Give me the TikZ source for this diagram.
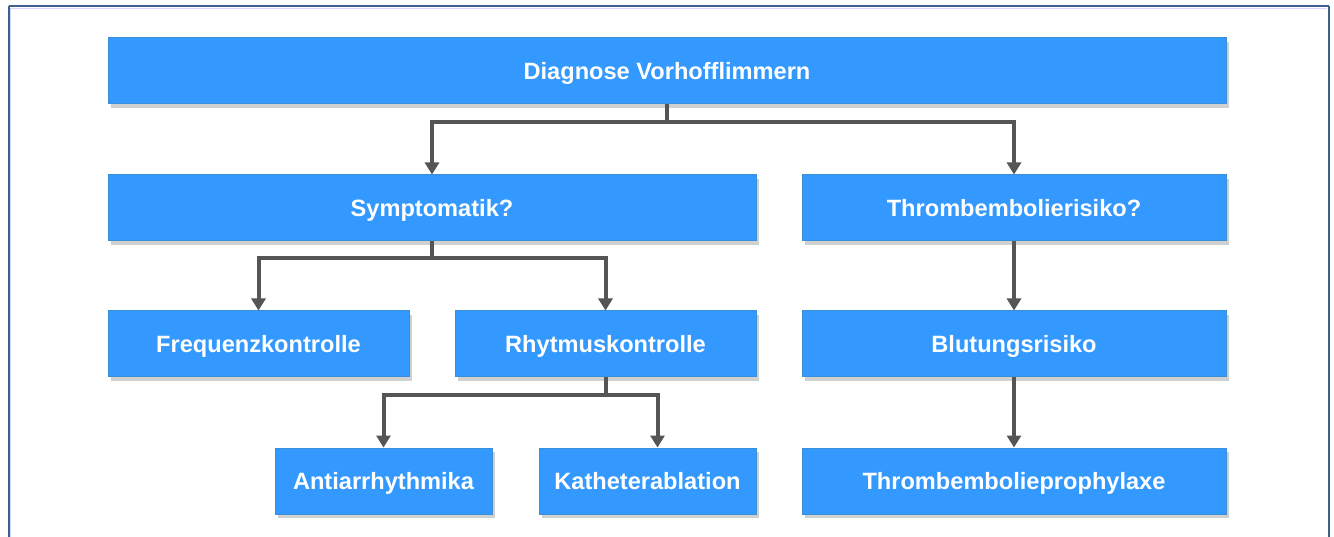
\documentclass[tikz,border=0pt]{standalone}
\usepackage{fontspec}
\setmainfont{Liberation Sans}
\usetikzlibrary{arrows.meta,shadows}
\definecolor{boxfill}{HTML}{3399FF}
\definecolor{boxline}{HTML}{3A8FD6}
\definecolor{conncol}{HTML}{555555}
\definecolor{framecol}{HTML}{3F5F8F}
\tikzset{
  box/.style={draw=boxline, line width=1pt, fill=boxfill, text=white,
    font=\fontsize{23.6}{28}\selectfont\bfseries, inner sep=0pt,
    text height=20pt, text depth=3pt,
    minimum height=66pt, anchor=center,
    drop shadow={shadow xshift=3pt, shadow yshift=-4pt, opacity=0.3, fill=black!60}},
  conn/.style={draw=conncol, line width=4pt,
    -{Triangle[width=14pt,length=12pt]}},
  plain/.style={draw=conncol, line width=4pt}
}
\begin{document}
\begin{tikzpicture}[x=1pt,y=-1pt]
\useasboundingbox (0,0) rectangle (1334,537);
\fill[white] (0,0) rectangle (1334,537);
\draw[framecol, line width=2pt] (8.5,6.5) -- (1328.5,6.5);
\draw[framecol, line width=2pt] (8.5,6.5) -- (8.5,560);
\draw[framecol, line width=2pt] (1328.5,6.5) -- (1328.5,560);
\draw[blue!15, line width=0.8pt] (10.5,8.5) -- (1326.5,8.5);
\draw[blue!15, line width=0.8pt] (10.5,8.5) -- (10.5,560);

\node[box, minimum width=1118pt] (diag) at (667,71) {Diagnose Vorhofflimmern};
\node[box, minimum width=648pt] (symp) at (432,208) {Symptomatik?};
\node[box, minimum width=424pt] (thr) at (1014,208) {Thrombembolierisiko?};
\node[box, minimum width=301pt] (freq) at (258.5,344) {Frequenzkontrolle};
\node[box, minimum width=301pt] (rhy) at (605.5,344) {Rhytmuskontrolle};
\node[box, minimum width=424pt] (blut) at (1014,344) {Blutungsrisiko};
\node[box, minimum width=217pt] (anti) at (383.5,481) {Antiarrhythmika};
\node[box, minimum width=217pt] (kath) at (647.5,481) {Katheterablation};
\node[box, minimum width=424pt] (proph) at (1014,481) {Thrombembolieprophylaxe};

\coordinate (j1) at ([yshift=-18pt]diag.south);
\draw[plain] (diag.south) -- (j1);
\draw[conn] (j1) -| (symp.north);
\draw[conn] (j1) -| (thr.north);

\coordinate (j2) at ([yshift=-17pt]symp.south);
\draw[plain] (symp.south) -- (j2);
\draw[conn] (j2) -| (freq.north);
\draw[conn] (j2) -| (rhy.north);

\coordinate (j3) at ([yshift=-18pt]rhy.south);
\coordinate (kin) at ([xshift=10pt]kath.north);
\draw[plain] (rhy.south) -- (j3);
\draw[conn] (j3) -| (anti.north);
\draw[conn] (j3) -| (kin);

\draw[conn] (thr.south) -- (blut.north);
\draw[conn] (blut.south) -- (proph.north);
\end{tikzpicture}
\end{document}
